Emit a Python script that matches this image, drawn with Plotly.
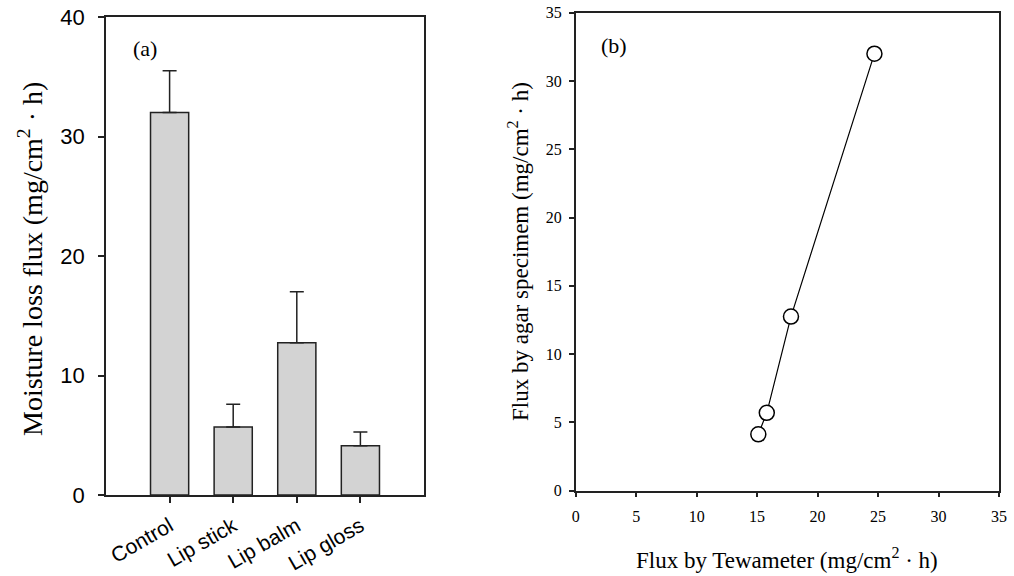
import plotly.graph_objects as go

# Panel (a) data
categories = ["Control", "Lip stick", "Lip balm", "Lip gloss"]
flux_mean = [32.0, 5.7, 12.75, 4.13]
flux_err = [3.5, 1.9, 4.25, 1.15]

# Panel (b) data
tewameter_flux = [15.1, 15.8, 17.8, 24.7]
agar_flux = [4.13, 5.7, 12.75, 32.0]

AX = "#222222"
SERIF = "Liberation Serif, Times New Roman, serif"
SANS = "Liberation Sans, Arial, sans-serif"

fig = go.Figure()

fig.add_trace(go.Bar(
    x=categories, y=flux_mean, width=0.6,
    marker=dict(color="#d3d3d3", line=dict(color=AX, width=1.5)),
    error_y=dict(type="data", array=flux_err, arrayminus=[0] * len(flux_err),
                 symmetric=False, color=AX, thickness=1.5, width=7),
    xaxis="x", yaxis="y", showlegend=False,
))

fig.add_trace(go.Scatter(
    x=tewameter_flux, y=agar_flux, mode="lines+markers",
    line=dict(color="black", width=1.2),
    marker=dict(size=15, color="white", line=dict(color="black", width=1.5)),
    xaxis="x2", yaxis="y2", showlegend=False,
))

common = dict(showline=True, linecolor=AX, linewidth=1.5, mirror=True,
              ticks="outside", tickcolor=AX, tickwidth=1.5,
              showgrid=False, zeroline=False, automargin=False)


def ann(text, x, y, size, angle=0):
    return dict(text=text, textangle=angle, x=x / 1014, y=1 - y / 576,
                xref="paper", yref="paper", xanchor="center", yanchor="middle",
                showarrow=False, font=dict(family=SERIF, size=size, color="black"))


fig.update_layout(
    width=1014, height=576,
    margin=dict(l=0, r=0, t=0, b=0, pad=0, autoexpand=False),
    paper_bgcolor="white", plot_bgcolor="white",
    xaxis=dict(domain=[106 / 1014, 424 / 1014], anchor="y", type="category",
               range=[-1, 4], tickangle=-30, ticklen=6, ticklabelstandoff=3,
               tickfont=dict(family=SANS, size=21, color="black"), **common),
    yaxis=dict(domain=[1 - 495 / 576, 1 - 17 / 576], anchor="x",
               range=[0, 40], dtick=10, ticklen=6, ticklabelstandoff=9,
               tickfont=dict(family=SANS, size=22, color="black"), **common),
    xaxis2=dict(domain=[575.7 / 1014, 999 / 1014], anchor="y2",
                range=[0, 35], dtick=5, ticklen=5, ticklabelstandoff=5,
                tickfont=dict(family=SERIF, size=16, color="black"), **common),
    yaxis2=dict(domain=[1 - 490.7 / 576, 1 - 12.7 / 576], anchor="x2",
                range=[0, 35], dtick=5, ticklen=5, ticklabelstandoff=4,
                tickfont=dict(family=SERIF, size=16, color="black"), **common),
    annotations=[
        ann("Moisture loss flux (mg/cm<sup>2</sup> · h)", 30, 259, 28, -90),
        ann("(a)", 145, 49, 22),
        ann("(b)", 614, 45, 22),
        ann("Flux by agar specimem (mg/cm<sup>2</sup> · h)", 518, 252, 23, -90),
        ann("Flux by Tewameter (mg/cm<sup>2</sup> · h)", 787, 558, 23),
    ],
)

fig.write_html("out.html")
